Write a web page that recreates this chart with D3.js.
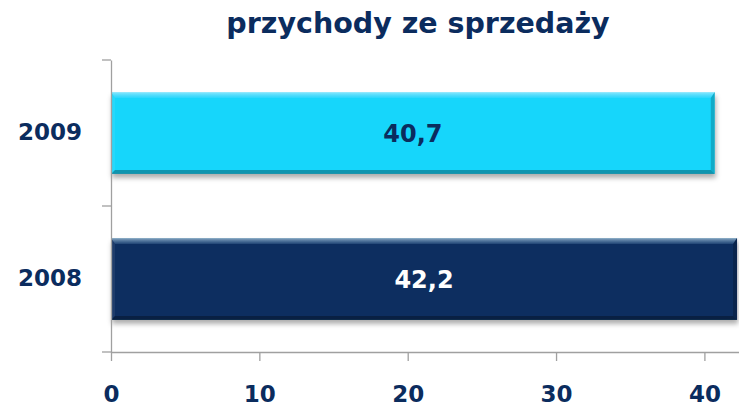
<!DOCTYPE html>
<html>
<head>
<meta charset="utf-8">
<script src="https://cdn.jsdelivr.net/npm/d3@7"></script>
<style>
  body { margin: 0; background: #fff; }
  svg { display: block; }
  text { font-family: "DejaVu Sans", Verdana, sans-serif; font-weight: bold; }
</style>
</head>
<body>
<svg id="chart"></svg>
<script>
// Data
const title = "przychody ze sprzedaży";
const years = ["2009", "2008"];
const revenue = [40.7, 42.2];
const xTicks = [0, 10, 20, 30, 40];

// Styles
const navy = "#0b2c5e";
const barFill = { "2009": "#19d6fb", "2008": "#072d60" };
const labelFill = { "2009": "#0b2c5e", "2008": "#ffffff" };

const width = 739, height = 407;
const rows = years.map((y, i) => ({ year: y, value: revenue[i] }));

const svg = d3.select("#chart")
    .attr("width", width)
    .attr("height", height);

const x = d3.scaleLinear().domain([0, 42.4]).range([111, 740]);
const y = d3.scaleBand().domain(years).range([60, 352])
    .paddingInner(0.44).paddingOuter(0.22);

const defs = svg.append("defs");
defs.append("filter")
    .attr("id", "shadow")
    .attr("x", "-5%").attr("y", "-20%")
    .attr("width", "115%").attr("height", "150%")
    .append("feDropShadow")
    .attr("dx", 1).attr("dy", 4)
    .attr("stdDeviation", 2.5)
    .attr("flood-color", "#000")
    .attr("flood-opacity", 0.32);

const topGrad = defs.append("linearGradient")
    .attr("id", "topGrad")
    .attr("x1", 0).attr("y1", 0).attr("x2", 0).attr("y2", 1);
topGrad.append("stop").attr("offset", 0).attr("stop-color", "#d8f4ff").attr("stop-opacity", 0.6);
topGrad.append("stop").attr("offset", 1).attr("stop-color", "#a8dcff").attr("stop-opacity", 0.12);

// Title
svg.append("text")
    .attr("x", 418)
    .attr("y", 33)
    .attr("text-anchor", "middle")
    .style("font-size", "28.5px")
    .style("fill", navy)
    .text(title);

// Bars
const bar = svg.append("g")
    .selectAll("g")
    .data(rows)
    .join("g");

bar.append("rect")
    .attr("x", x(0))
    .attr("y", d => y(d.year))
    .attr("width", d => x(d.value) - x(0))
    .attr("height", y.bandwidth())
    .attr("fill", d => barFill[d.year])
    .attr("filter", "url(#shadow)");

// bevel edges
const bt = 6, bb = 4, bl = 4, br = 4;
const bevel = [
    { side: "top", fill: "url(#topGrad)", op: 1 },
    { side: "left", fill: "#fff", op: 0.07 },
    { side: "right", fill: "#000", op: 0.2 },
    { side: "bottom", fill: "#000", op: 0.3 }
];
bar.each(function (d) {
    const x0 = x(0), x1 = x(d.value), y0 = y(d.year), y1 = y0 + y.bandwidth();
    const pts = {
        top: [[x0, y0], [x1, y0], [x1 - br, y0 + bt], [x0 + bl, y0 + bt]],
        left: [[x0, y0], [x0 + bl, y0 + bt], [x0 + bl, y1 - bb], [x0, y1]],
        right: [[x1, y0], [x1, y1], [x1 - br, y1 - bb], [x1 - br, y0 + bt]],
        bottom: [[x0, y1], [x1, y1], [x1 - br, y1 - bb], [x0 + bl, y1 - bb]]
    };
    d3.select(this).selectAll("polygon")
        .data(bevel)
        .join("polygon")
        .attr("points", e => pts[e.side].join(" "))
        .attr("fill", e => e.fill)
        .attr("fill-opacity", e => e.op);
});

const fmt = v => d3.format(".1f")(v).replace(".", ",");
bar.append("text")
    .attr("x", d => (x(0) + x(d.value)) / 2)
    .attr("y", d => y(d.year) + y.bandwidth() / 2)
    .attr("dy", "0.36em")
    .attr("text-anchor", "middle")
    .style("font-size", "24px")
    .style("fill", d => labelFill[d.year])
    .text(d => fmt(d.value));

// Axes
const axisColor = "#a0a0a0";

const xAxis = svg.append("g")
    .attr("transform", "translate(0,352)")
    .call(d3.axisBottom(x).tickValues(xTicks).tickSize(9).tickSizeOuter(0).tickPadding(25));

const yAxis = svg.append("g")
    .attr("transform", `translate(${x(0)},0)`)
    .call(d3.axisLeft(y).tickSize(0).tickPadding(29));

// category boundary ticks
const step = y.step();
const bounds = [y(years[0]) - y.paddingOuter() * step];
years.forEach(yr => bounds.push(y(yr) + y.bandwidth() + y.paddingInner() * step / 2));
bounds[bounds.length - 1] = y.range()[1];
yAxis.selectAll(".bound")
    .data(bounds)
    .join("line")
    .attr("class", "bound")
    .attr("x1", -9).attr("x2", 0)
    .attr("y1", d => d).attr("y2", d => d);

[xAxis, yAxis].forEach(a => {
    a.selectAll("path, line")
        .attr("stroke", axisColor)
        .attr("stroke-width", 1.3);
    a.selectAll("text")
        .style("font-family", "'DejaVu Sans', Verdana, sans-serif")
        .style("font-weight", "bold")
        .style("font-size", "23px")
        .style("fill", navy);
});
yAxis.select(".domain").raise();
</script>
</body>
</html>
